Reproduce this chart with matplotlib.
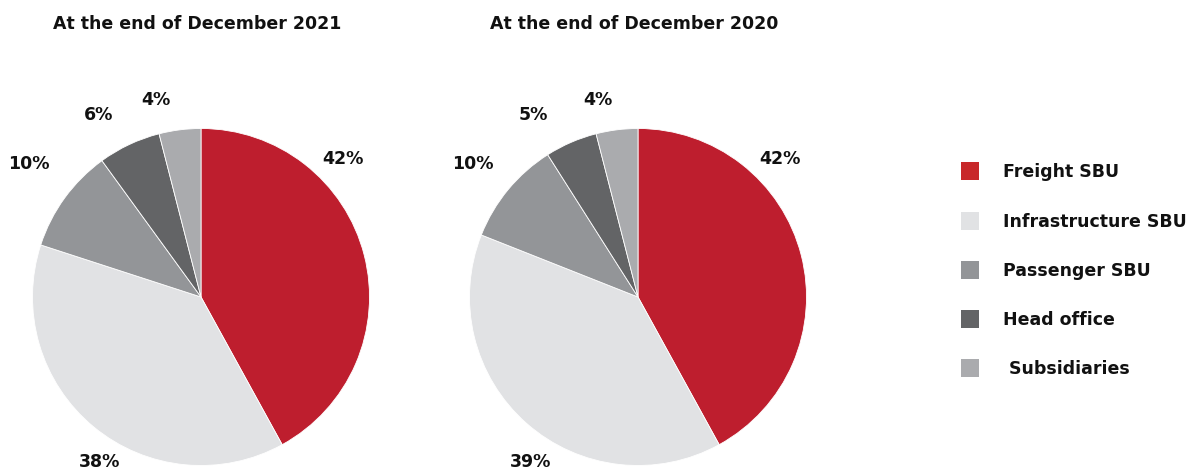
import matplotlib.pyplot as plt
from matplotlib.patches import Rectangle

plt.rcParams['font.family'] = ['DejaVu Sans']

segments = ['Freight SBU', 'Infrastructure SBU', 'Passenger SBU', 'Head office', ' Subsidiaries']
share_2021 = [42, 38, 10, 6, 4]
share_2020 = [42, 39, 10, 5, 4]
titles = ['At the end of December 2021', 'At the end of December 2020']

pie_colors = ['#be1e2e', '#e1e2e4', '#939598', '#636466', '#aaabae']
legend_colors = ['#c8282a', '#e1e2e4', '#939598', '#636466', '#aaabae']

# label spots, in units of the pie radius
label_pos_2021 = [(0.84, 0.82), (-0.60, -0.98), (-1.02, 0.79), (-0.61, 1.08), (-0.27, 1.17)]
label_pos_2020 = [(0.84, 0.82), (-0.64, -0.98), (-0.98, 0.79), (-0.62, 1.08), (-0.24, 1.17)]

W, H = 1190, 470
fig = plt.figure(figsize=(W / 100, H / 100), dpi=100)
FS = 12.5


def draw_pie(cx, cy, r, values, label_pos, title, title_x):
    ax = fig.add_axes([(cx - r) / W, (H - cy - r) / H, 2 * r / W, 2 * r / H])
    ax.pie(values, colors=pie_colors, startangle=90, counterclock=False,
           wedgeprops=dict(linewidth=0.6, edgecolor='white'))
    ax.set_xlim(-1, 1)
    ax.set_ylim(-1, 1)
    ax.set_aspect('equal')
    for v, (x, y) in zip(values, label_pos):
        ax.text(x, y, f'{v}%', ha='center', va='center', fontsize=FS,
                fontweight='bold', color='#111111', clip_on=False)
    fig.text(title_x / W, 1 - 24 / H, title, ha='center', va='center',
             fontsize=FS, fontweight='bold', color='#111111')


draw_pie(201, 297, 168.5, share_2021, label_pos_2021, titles[0], 197)
draw_pie(638, 297, 168.5, share_2020, label_pos_2020, titles[1], 634)

# legend drawn in pixel coordinates
lax = fig.add_axes([0, 0, 1, 1], facecolor='none')
lax.set_xlim(0, W)
lax.set_ylim(H, 0)
lax.axis('off')
row_y = [171, 221, 270, 319, 368]
for name, c, y in zip(segments, legend_colors, row_y):
    lax.add_patch(Rectangle((961, y - 9), 18, 18, facecolor=c, edgecolor='none'))
    lax.text(1003, y + 1, name, ha='left', va='center', fontsize=FS,
             fontweight='bold', color='#111111')

fig.savefig('out.png', dpi=100, facecolor='white')
